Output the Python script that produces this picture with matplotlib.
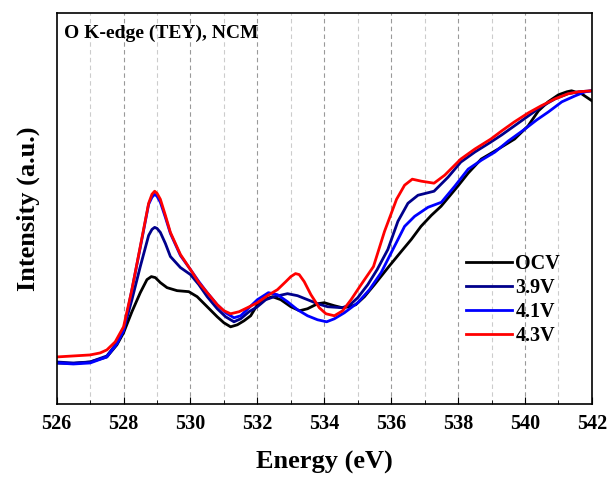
from matplotlib import pyplot as plt
from matplotlib.ticker import MultipleLocator
import numpy as np

plt.rcParams['font.family'] = ['Liberation Serif', 'DejaVu Serif']
plt.rcParams['font.weight'] = 'bold'

labels = ['OCV', '3.9V', '4.1V', '4.3V']
colors = ['#000000', '#00008B', '#0000FF', '#FF0000']

e_ocv = [526.0, 526.5, 527.0, 527.5, 527.8, 528.0, 528.25, 528.5, 528.7, 528.83,
         528.95, 529.1, 529.3, 529.6, 529.95, 530.2, 530.5, 530.8, 531.0, 531.2,
         531.4, 531.6, 531.8, 532.0, 532.2, 532.45, 532.7, 533.0, 533.26, 533.5,
         533.8, 534.0, 534.3, 534.54, 534.75, 534.94, 535.2, 535.5, 535.93, 536.3,
         536.6, 536.89, 537.2, 537.49, 537.99, 538.3, 538.69, 539.2, 539.69, 540.09,
         540.4, 540.69, 541.0, 541.25, 541.39, 541.69, 542.0]
i_ocv = [41, 40.5, 42, 47, 59, 71, 92, 111, 124, 127,
         126, 121, 116, 113, 112, 107, 97, 87, 81, 77,
         79, 83, 88, 99, 104, 107, 104, 97, 93, 95,
         100, 101, 98, 96, 97, 99, 107, 119, 137, 152,
         164, 177, 188, 197, 217, 230, 244, 254, 264, 277,
         292, 301, 308, 311, 312, 309, 302]

e_39 = [526.0, 526.5, 527.0, 527.5, 527.8, 528.0, 528.25, 528.5, 528.75, 528.85,
        528.93, 529.0, 529.1, 529.25, 529.4, 529.7, 530.0, 530.25, 530.5, 530.8,
        531.05, 531.3, 531.5, 531.75, 532.0, 532.25, 532.5, 532.9, 533.2, 533.5,
        533.8, 534.1, 534.54, 534.77, 535.0, 535.3, 535.58, 535.9, 536.2, 536.5,
        536.8, 537.28, 537.7, 538.08, 538.5, 538.98, 539.3, 539.68, 540.1, 540.48,
        540.9, 541.28, 541.6, 542.0]
i_39 = [42, 41, 42, 48, 61, 74, 104, 137, 168, 174,
        176, 175, 171, 160, 147, 136, 129, 119, 107, 95,
        87, 82, 85, 92, 97, 104, 107, 110, 108, 104,
        100, 97, 96, 99, 106, 119, 134, 154, 182, 200,
        208, 212, 226, 241, 251, 261, 268, 277, 287, 296,
        304, 309, 311, 312]

e_41 = [526.0, 526.5, 527.0, 527.5, 527.8, 528.0, 528.25, 528.5, 528.75, 528.85,
        528.93, 529.0, 529.1, 529.25, 529.4, 529.7, 530.0, 530.25, 530.5, 530.8,
        531.05, 531.3, 531.5, 531.75, 532.0, 532.33, 532.6, 532.9, 533.2, 533.5,
        533.8, 534.07, 534.3, 534.6, 535.0, 535.35, 535.7, 536.05, 536.4, 536.7,
        537.1, 537.5, 537.9, 538.3, 538.7, 539.1, 539.5, 540.0, 540.35, 540.7,
        541.1, 541.5, 541.8, 542.0]
i_41 = [41, 40, 41, 47, 60, 73, 114, 156, 199, 206,
        209, 207, 201, 186, 170, 148, 134, 122, 111, 99,
        91, 86, 88, 96, 104, 111, 109, 102, 94, 88,
        84, 82, 85, 91, 101, 114, 131, 154, 177, 187,
        196, 201, 217, 234, 243, 251, 262, 274, 283, 291,
        301, 307, 311, 312]

e_43 = [526.0, 526.5, 527.0, 527.3, 527.5, 527.75, 528.0, 528.25, 528.5, 528.75,
        528.85, 528.93, 529.0, 529.1, 529.25, 529.4, 529.7, 530.0, 530.25, 530.5,
        530.8, 531.0, 531.2, 531.45, 531.7, 532.0, 532.3, 532.6, 532.85, 533.0,
        533.14, 533.25, 533.4, 533.6, 533.85, 534.05, 534.3, 534.55, 534.8, 535.1,
        535.47, 535.8, 536.16, 536.4, 536.63, 536.9, 537.28, 537.6, 538.08, 538.5,
        538.98, 539.3, 539.68, 540.1, 540.48, 540.9, 541.28, 541.6, 542.0]
i_43 = [47, 48, 49, 51, 54, 62, 77, 114, 157, 200,
        209, 212, 210, 204, 188, 171, 149, 134, 121, 111,
        99, 93, 90, 92, 96, 101, 108, 114, 122, 127,
        130, 129, 122, 109, 96, 90, 88, 93, 104, 119,
        137, 172, 204, 218, 224, 222, 220, 228, 244, 254,
        264, 272, 281, 290, 297, 304, 309, 311, 312]

energies = [e_ocv, e_39, e_41, e_43]
intensities = [i_ocv, i_39, i_41, i_43]

fig = plt.figure(figsize=(6.09, 4.8), dpi=100)
ax = fig.add_axes([0.093, 0.158, 0.879, 0.814])

for x in range(527, 542):
    col = '#999999' if x % 2 == 0 else '#cccccc'
    ax.axvline(x, color=col, lw=0.8, ls=(0, (4, 3)), zorder=0)

for e, i, lab, c in zip(energies, intensities, labels, colors):
    ax.plot(e, i, color=c, lw=2.0, label=lab, solid_joinstyle='round')

ax.set_xlim(526, 542)
ax.set_ylim(0, 389)
ax.xaxis.set_major_locator(MultipleLocator(2))
ax.xaxis.set_minor_locator(MultipleLocator(1))
ax.tick_params(axis='x', which='both', direction='in', labelsize=14.5, pad=7)
ax.tick_params(axis='x', which='major', length=5)
ax.tick_params(axis='x', which='minor', length=3)
ax.set_yticks([])
for s in ax.spines.values():
    s.set_linewidth(1.2)

ax.set_xlabel('Energy (eV)', fontsize=19, fontweight='bold', labelpad=12)
ax.set_ylabel('Intensity (a.u.)', fontsize=19, fontweight='bold', labelpad=12)
ax.text(0.014, 0.95, 'O K-edge (TEY), NCM', transform=ax.transAxes,
        fontsize=14, fontweight='bold', va='center', ha='left')

ax.legend(loc='upper left', bbox_to_anchor=(0.765, 0.385), frameon=False,
          fontsize=14.5, handlelength=2.3, handletextpad=0.15,
          labelspacing=0.2, borderpad=0, borderaxespad=0)

fig.savefig('out.png', dpi=100)
